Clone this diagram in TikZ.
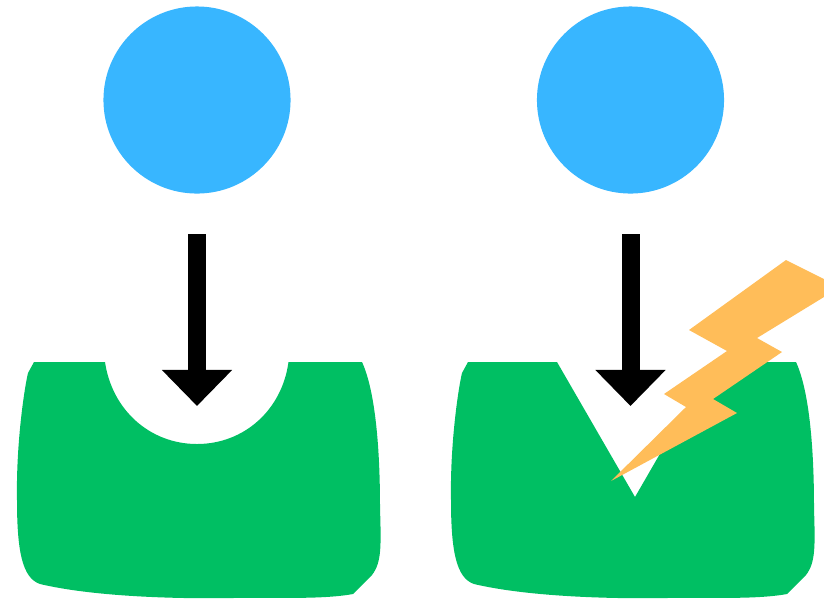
\documentclass[tikz,border=0pt]{standalone}
\usepackage{tikz}
\usetikzlibrary{arrows.meta}
\usepackage{xcolor}
\definecolor{ballcolor}{RGB}{56,182,255}
\definecolor{bodycolor}{RGB}{0,191,99}
\definecolor{boltcolor}{RGB}{255,189,89}

% Outer edge of the green block, from notch top right round to notch top left
\def\bodyedge{-- (362,362) .. controls (374,388) and (380,440) .. (380,507)
    .. controls (381,545) and (382,562) .. (372,575) -- (353,594)
    .. controls (320,600) and (270,597) .. (233,598)
    .. controls (180,599) and (95,597) .. (40,584)
    .. controls (22,578) and (17,550) .. (17,500)
    .. controls (16,445) and (24,390) .. (28,373) -- (34,362)}

\begin{document}
\begin{tikzpicture}[
    x=0.01cm, y=-0.01cm,
    >={Triangle[length=3.6mm,width=6.8mm]},
    ball/.style={circle, fill=ballcolor, minimum size=1.87cm, inner sep=0pt, outer sep=0pt},
    drop/.style={->, black, line width=1.8mm, shorten <=4.05mm}
]

% Canvas: 824 x 599, one unit per pixel
\useasboundingbox (0,0) rectangle (824,599);

% Balls
\node[ball] (ballL) at (197,100) {};
\node[ball] (ballR) at (630.5,100) {};

% Left block, round notch
\fill[bodycolor] (288.5,362) \bodyedge -- (105,362)
    .. controls (112,410) and (150,444) .. (197,444)
    .. controls (244,444) and (282,410) .. (288.5,362) -- cycle;

% Right block, sharp notch
\fill[bodycolor, shift={(434,0)}] (279,362) \bodyedge -- (123,362) -- (201,497) -- cycle;

% Arrows
\coordinate (tipL) at (197,406);
\coordinate (tipR) at (630.5,406);
\draw[drop] (ballL) -- (tipL);
\draw[drop] (ballR) -- (tipR);

% Lightning bolt, runs off the right edge
\fill[boltcolor] (786,260) -- (824,279) -- (824,297) -- (757,338) -- (782,352) -- (713,399)
    -- (737,413) -- (611,481) -- (686,407) -- (664,394) -- (727,351) -- (689,330) -- cycle;

\end{tikzpicture}
\end{document}
